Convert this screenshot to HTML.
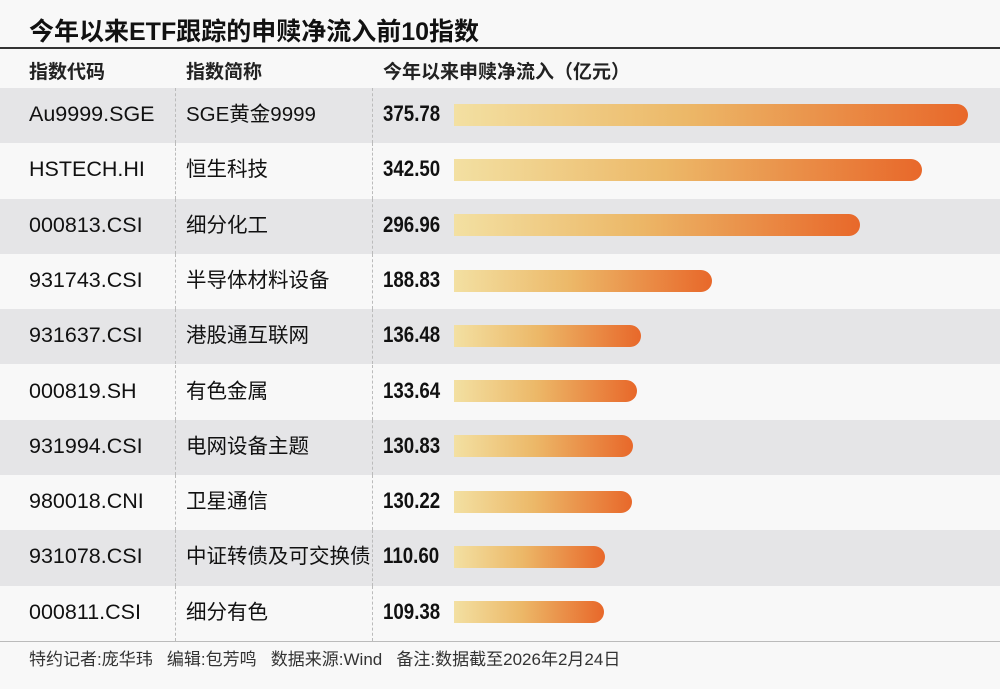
<!DOCTYPE html>
<html><head><meta charset="utf-8">
<style>
body{margin:0;width:1000px;height:689px;background:#f8f8f8;font-family:"Liberation Sans","Noto Sans CJK SC",sans-serif;overflow:hidden;position:relative}
.t{position:absolute;white-space:nowrap}
</style></head><body>
<div class="t" style="left:29px;top:16px;font-size:25px;line-height:32px;font-weight:bold;color:#111">今年以来ETF跟踪的申赎净流入前10指数</div>
<div style="position:absolute;left:0;top:47px;width:1000px;height:2px;background:#333"></div>
<div class="t" style="left:29px;top:60px;font-size:19px;line-height:26px;font-weight:bold;color:#222">指数代码</div>
<div class="t" style="left:186px;top:60px;font-size:19px;line-height:26px;font-weight:bold;color:#222">指数简称</div>
<div class="t" style="left:383px;top:60px;font-size:19px;line-height:26px;font-weight:bold;color:#222">今年以来申赎净流入（亿元）</div>
<div id="rows"></div>
<div style="position:absolute;left:0;top:641px;width:1000px;height:1px;background:#bbb"></div>
<div class="t" style="left:29px;top:648px;font-size:17px;line-height:24px;color:#333">特约记者:庞华玮 &nbsp;&nbsp;编辑:包芳鸣 &nbsp;&nbsp;数据来源:Wind &nbsp;&nbsp;备注:数据截至2026年2月24日</div>
<script>
const codes=["Au9999.SGE","HSTECH.HI","000813.CSI","931743.CSI","931637.CSI","000819.SH","931994.CSI","980018.CNI","931078.CSI","000811.CSI"];
const names=["SGE黄金9999","恒生科技","细分化工","半导体材料设备","港股通互联网","有色金属","电网设备主题","卫星通信","中证转债及可交换债","细分有色"];
const values=[375.78,342.50,296.96,188.83,136.48,133.64,130.83,130.22,110.60,109.38];
const root=document.getElementById('rows');
const top0=88,rh=55.3,x0=454,scale=(968-454)/375.78;
function xs(v){return v*scale;}
values.forEach((v,i)=>{
  const y=top0+i*rh;
  const row=document.createElement('div');
  
  
  row.style.cssText=`position:absolute;left:0;top:${y}px;width:1000px;height:${rh}px;background:${i%2?'#f8f8f8':'#e5e5e7'}`;
  row.innerHTML=`<div style="position:absolute;left:175px;top:0;height:100%;border-left:1px dashed #bbb"></div><div style="position:absolute;left:372px;top:0;height:100%;border-left:1px dashed #bbb"></div>`;
  const c=document.createElement('div');c.className='t';
  
  
  c.style.cssText=`left:29px;top:0;line-height:${rh-2}px;font-size:21.5px;color:#111`;c.textContent=codes[i];row.appendChild(c);
  const n=document.createElement('div');n.className='t';
  
  
  n.style.cssText=`left:186px;top:0;line-height:${rh-2}px;font-size:20.5px;color:#111`;n.textContent=names[i];row.appendChild(n);
  const vl=document.createElement('div');vl.className='t';
  
  
  vl.style.cssText=`left:383px;top:0;line-height:${rh-4}px;font-size:22px;font-weight:bold;color:#111;transform:scaleX(0.85);transform-origin:left`;vl.textContent=v.toFixed(2);row.appendChild(vl);
  const b=document.createElement('div');
  
  
  b.style.cssText=`position:absolute;left:${x0}px;top:${(rh-22)/2-1}px;width:${xs(v)}px;height:22px;border-radius:0 11px 11px 0;background:linear-gradient(90deg,#f3e0a2,#ecb868 45%,#e8682a)`;
  row.appendChild(b);
  root.appendChild(row);
});
</script>
</body></html>
